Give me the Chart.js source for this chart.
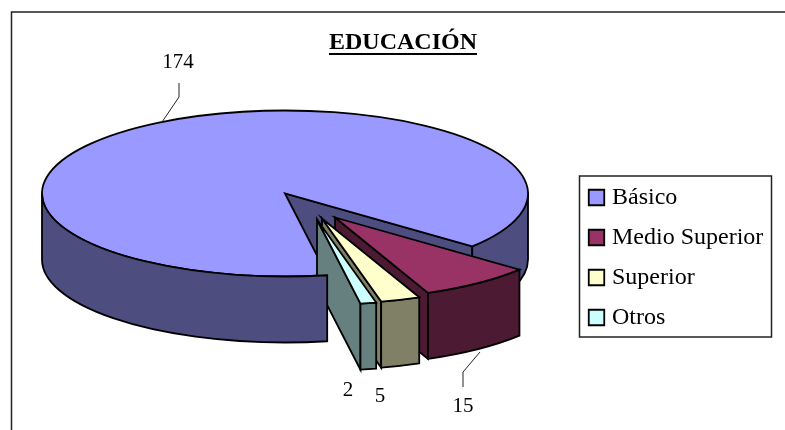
<!DOCTYPE html>
<html>
<head>
<meta charset="utf-8">
<script src="https://cdn.jsdelivr.net/npm/chart.js@4"></script>
<style>
    html, body { margin: 0; padding: 0; background: #fff; }
    canvas { display: block; }
</style>
</head>
<body>
<canvas id="educacionChart" width="785" height="430"></canvas>
<script>
const categories = ['Básico', 'Medio Superior', 'Superior', 'Otros'];
const values = [174, 15, 5, 2];
const topColors = ['#9999FF', '#993366', '#FFFFCC', '#CCFFFF'];
const sideColors = ['#4D4D80', '#4D1A33', '#808066', '#668080'];
const chartTitle = 'EDUCACIÓN';

// pie projection on the canvas
const TILT = 83 / 243;
const DEPTH = 66;
const LINE = 1.8;
const FONT = '"Liberation Serif", "Times New Roman", serif';

// how far each slice is pulled out, and its radius factor
const explodeX = [0, 50, 37, 32];
const explodeY = [0, 24, 25, 26];
const radiusScale = [1, 0.985, 1.03, 1.03];

// value labels and their leader lines
const labelX = [178, 463, 380, 348];
const labelY = [62, 406, 396, 390];
const leaders = [
    [[162, 122], [179, 97], [179, 83]],
    [[480, 352], [463, 372], [463, 387]]
];

function sliceGeom(arc, i) {
    const p = arc.getProps(['x', 'y', 'startAngle', 'endAngle', 'outerRadius'], true);
    return {
        cx: p.x + explodeX[i],
        cy: p.y + explodeY[i],
        r: p.outerRadius * radiusScale[i],
        start: p.startAngle,
        end: p.endAngle
    };
}

function paint(ctx, fill) {
    ctx.fillStyle = fill;
    ctx.strokeStyle = '#000';
    ctx.lineWidth = LINE;
    ctx.lineJoin = 'miter';
    ctx.fill();
    ctx.stroke();
}

function drawTop(ctx, g, fill) {
    ctx.beginPath();
    ctx.moveTo(g.cx, g.cy);
    ctx.ellipse(g.cx, g.cy, g.r, g.r * TILT, 0, g.start, g.end);
    ctx.closePath();
    paint(ctx, fill);
}

function drawCut(ctx, g, angle, fill) {
    const ox = g.cx + g.r * Math.cos(angle);
    const oy = g.cy + g.r * TILT * Math.sin(angle);
    ctx.beginPath();
    ctx.moveTo(g.cx, g.cy);
    ctx.lineTo(ox, oy);
    ctx.lineTo(ox, oy + DEPTH);
    ctx.lineTo(g.cx, g.cy + DEPTH);
    ctx.closePath();
    paint(ctx, fill);
}

function drawSide(ctx, g, from, to, fill) {
    ctx.beginPath();
    ctx.ellipse(g.cx, g.cy, g.r, g.r * TILT, 0, from, to);
    ctx.ellipse(g.cx, g.cy + DEPTH, g.r, g.r * TILT, 0, to, from, true);
    ctx.closePath();
    paint(ctx, fill);
}

// only the part of the rim facing the viewer (0-180 deg) is visible
function frontSpans(g) {
    const spans = [];
    for (let k = 0; k < 3; k++) {
        const from = Math.max(g.start, k * 2 * Math.PI);
        const to = Math.min(g.end, k * 2 * Math.PI + Math.PI);
        if (to > from) spans.push([from, to]);
    }
    return spans;
}

const pie3d = {
    id: 'pie3d',
    afterLayout(chart) {
        // the pie sits off centre and the legend is lower than it
        Object.assign(chart.chartArea, { left: 0, right: 570, top: 0, bottom: 387 });
        Object.assign(chart.legend, { left: 577, right: 785, top: 169.5, bottom: 425 });
        Object.assign(chart.titleBlock, { left: 253, right: 553, top: 28, bottom: 57 });
    },
    beforeDatasetsDraw(chart) {
        const ctx = chart.ctx;
        const arcs = chart.getDatasetMeta(0).data;
        const geoms = arcs.map((arc, i) => sliceGeom(arc, i));
        const main = geoms[0];
        const mainSpans = frontSpans(main);

        ctx.save();

        // far part of the big slice
        drawCut(ctx, main, main.end, sideColors[0]);
        drawSide(ctx, main, mainSpans[1][0], mainSpans[1][1], sideColors[0]);
        drawTop(ctx, main, topColors[0]);

        // exploded slices, back to front
        for (let i = 1; i < arcs.length; i++) {
            const g = geoms[i];
            drawCut(ctx, g, g.end, sideColors[i]);
            frontSpans(g).forEach(s => drawSide(ctx, g, s[0], s[1], sideColors[i]));
            drawTop(ctx, g, topColors[i]);
        }

        // near rim of the big slice goes over the small ones
        drawSide(ctx, main, mainSpans[0][0], mainSpans[0][1], sideColors[0]);

        ctx.restore();
        return false;
    },
    afterDraw(chart) {
        const ctx = chart.ctx;
        ctx.save();

        // chart frame, only top and left are inside the picture
        ctx.strokeStyle = '#222';
        ctx.lineWidth = 1.5;
        ctx.beginPath();
        ctx.moveTo(11.5, 430);
        ctx.lineTo(11.5, 12);
        ctx.lineTo(785, 12);
        ctx.stroke();

        // legend frame
        ctx.strokeRect(579.5, 176, 192, 161);

        // title underline
        ctx.font = 'bold 24px ' + FONT;
        const w = ctx.measureText(chartTitle).width;
        ctx.strokeStyle = '#000';
        ctx.lineWidth = 2;
        ctx.beginPath();
        ctx.moveTo(403 - w / 2, 54);
        ctx.lineTo(403 + w / 2, 54);
        ctx.stroke();

        // leader lines
        ctx.lineWidth = 1;
        ctx.strokeStyle = '#222';
        leaders.forEach(line => {
            ctx.beginPath();
            line.forEach((p, i) => i ? ctx.lineTo(p[0], p[1]) : ctx.moveTo(p[0], p[1]));
            ctx.stroke();
        });

        // value labels
        ctx.fillStyle = '#000';
        ctx.font = '21px ' + FONT;
        ctx.textAlign = 'center';
        ctx.textBaseline = 'middle';
        values.forEach((v, i) => ctx.fillText(String(v), labelX[i], labelY[i]));

        ctx.restore();
    }
};

new Chart(document.getElementById('educacionChart'), {
    type: 'pie',
    data: {
        labels: categories,
        datasets: [{
            data: values,
            backgroundColor: topColors,
            borderColor: '#000',
            borderWidth: 1.8,
            radius: 243
        }]
    },
    options: {
        responsive: false,
        animation: false,
        rotation: 170,
        events: [],
        plugins: {
            tooltip: { enabled: false },
            title: {
                display: true,
                text: chartTitle,
                color: '#000',
                padding: 0,
                font: { family: FONT, size: 24, weight: 'bold' }
            },
            legend: {
                position: 'right',
                align: 'start',
                labels: {
                    color: '#000',
                    usePointStyle: true,
                    pointStyle: 'rect',
                    boxWidth: 7,
                    boxHeight: 15.5,
                    padding: 16,
                    font: { family: FONT, size: 24 }
                }
            }
        }
    },
    plugins: [pie3d]
});
</script>
</body>
</html>
